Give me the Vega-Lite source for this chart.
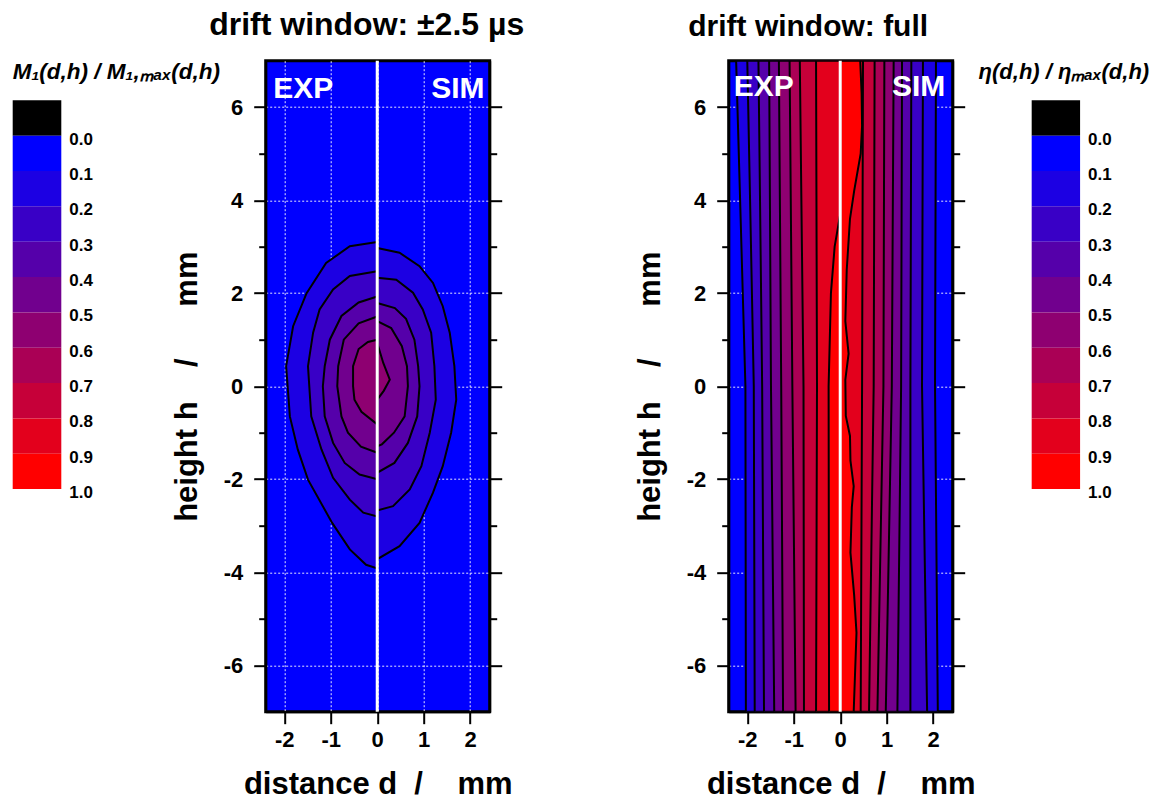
{
  "$schema": "https://vega.github.io/schema/vega-lite/v6.json",
  "usermeta": {"embedOptions": {"actions": false}},
  "padding": {"left": 10.7, "top": 6.7, "right": 5, "bottom": 0},
  "background": "white",
  "config": {
    "font": "Liberation Sans",
    "view": {"stroke": null},
    "axis": {
      "labelFont": "Liberation Sans", "labelFontSize": 22, "labelFontWeight": "bold", "labelColor": "black",
      "titleFont": "Liberation Sans", "titleFontSize": 31, "titleFontWeight": "bold", "titleColor": "black",
      "tickColor": "black", "tickWidth": 2, "domainColor": "black", "domainWidth": 2,
      "gridColor": "white", "gridDash": [2, 2], "gridWidth": 1, "zindex": 1,
      "labelFlush": false, "labelOverlap": false
    },
    "title": {"font": "Liberation Sans", "fontSize": 31, "fontWeight": "bold", "color": "black", "anchor": "middle", "frame": "group", "baseline": "alphabetic", "offset": 17.6}
  },
  "datasets": {
    "bands": [
      {"band": -1, "lo": -0.1, "hi": 0.0},
      {"band": 0, "lo": 0.0, "hi": 0.1},
      {"band": 1, "lo": 0.1, "hi": 0.2},
      {"band": 2, "lo": 0.2, "hi": 0.3},
      {"band": 3, "lo": 0.3, "hi": 0.4},
      {"band": 4, "lo": 0.4, "hi": 0.5},
      {"band": 5, "lo": 0.5, "hi": 0.6},
      {"band": 6, "lo": 0.6, "hi": 0.7},
      {"band": 7, "lo": 0.7, "hi": 0.8},
      {"band": 8, "lo": 0.8, "hi": 0.9},
      {"band": 9, "lo": 0.9, "hi": 1.0}
    ],
    "left": [
      {"level": 1, "side": "EXP", "h": 3.10, "d": 0},
      {"level": 1, "side": "EXP", "h": 3.01, "d": -0.59},
      {"level": 1, "side": "EXP", "h": 2.65, "d": -1.10},
      {"level": 1, "side": "EXP", "h": 2.0, "d": -1.52},
      {"level": 1, "side": "EXP", "h": 1.29, "d": -1.81},
      {"level": 1, "side": "EXP", "h": 0.43, "d": -1.96},
      {"level": 1, "side": "EXP", "h": -0.65, "d": -1.88},
      {"level": 1, "side": "EXP", "h": -1.36, "d": -1.71},
      {"level": 1, "side": "EXP", "h": -2.01, "d": -1.49},
      {"level": 1, "side": "EXP", "h": -2.94, "d": -0.97},
      {"level": 1, "side": "EXP", "h": -3.51, "d": -0.59},
      {"level": 1, "side": "EXP", "h": -3.84, "d": -0.24},
      {"level": 1, "side": "EXP", "h": -3.92, "d": 0},
      {"level": 1, "side": "SIM", "h": 2.97, "d": 0},
      {"level": 1, "side": "SIM", "h": 2.87, "d": 0.48},
      {"level": 1, "side": "SIM", "h": 2.58, "d": 0.91},
      {"level": 1, "side": "SIM", "h": 2.22, "d": 1.20},
      {"level": 1, "side": "SIM", "h": 1.72, "d": 1.41},
      {"level": 1, "side": "SIM", "h": 1.15, "d": 1.56},
      {"level": 1, "side": "SIM", "h": 0.43, "d": 1.66},
      {"level": 1, "side": "SIM", "h": -0.29, "d": 1.70},
      {"level": 1, "side": "SIM", "h": -1.0, "d": 1.59},
      {"level": 1, "side": "SIM", "h": -1.72, "d": 1.41},
      {"level": 1, "side": "SIM", "h": -2.29, "d": 1.20},
      {"level": 1, "side": "SIM", "h": -2.94, "d": 0.91},
      {"level": 1, "side": "SIM", "h": -3.44, "d": 0.48},
      {"level": 1, "side": "SIM", "h": -3.72, "d": 0},
      {"level": 2, "side": "EXP", "h": 2.47, "d": 0},
      {"level": 2, "side": "EXP", "h": 2.37, "d": -0.59},
      {"level": 2, "side": "EXP", "h": 2.08, "d": -0.95},
      {"level": 2, "side": "EXP", "h": 1.65, "d": -1.24},
      {"level": 2, "side": "EXP", "h": 1.15, "d": -1.38},
      {"level": 2, "side": "EXP", "h": 0.43, "d": -1.49},
      {"level": 2, "side": "EXP", "h": -0.65, "d": -1.42},
      {"level": 2, "side": "EXP", "h": -1.36, "d": -1.20},
      {"level": 2, "side": "EXP", "h": -1.97, "d": -0.95},
      {"level": 2, "side": "EXP", "h": -2.44, "d": -0.59},
      {"level": 2, "side": "EXP", "h": -2.72, "d": -0.30},
      {"level": 2, "side": "EXP", "h": -2.80, "d": 0},
      {"level": 2, "side": "SIM", "h": 2.33, "d": 0},
      {"level": 2, "side": "SIM", "h": 2.29, "d": 0.41},
      {"level": 2, "side": "SIM", "h": 2.01, "d": 0.77},
      {"level": 2, "side": "SIM", "h": 1.65, "d": 0.98},
      {"level": 2, "side": "SIM", "h": 1.15, "d": 1.16},
      {"level": 2, "side": "SIM", "h": 0.43, "d": 1.23},
      {"level": 2, "side": "SIM", "h": -0.29, "d": 1.26},
      {"level": 2, "side": "SIM", "h": -1.0, "d": 1.13},
      {"level": 2, "side": "SIM", "h": -1.72, "d": 0.95},
      {"level": 2, "side": "SIM", "h": -2.22, "d": 0.70},
      {"level": 2, "side": "SIM", "h": -2.58, "d": 0.34},
      {"level": 2, "side": "SIM", "h": -2.67, "d": 0},
      {"level": 3, "side": "EXP", "h": 1.93, "d": 0},
      {"level": 3, "side": "EXP", "h": 1.80, "d": -0.40},
      {"level": 3, "side": "EXP", "h": 1.51, "d": -0.77},
      {"level": 3, "side": "EXP", "h": 1.0, "d": -1.02},
      {"level": 3, "side": "EXP", "h": 0.43, "d": -1.13},
      {"level": 3, "side": "EXP", "h": 0.0, "d": -1.17},
      {"level": 3, "side": "EXP", "h": -0.65, "d": -1.13},
      {"level": 3, "side": "EXP", "h": -1.22, "d": -0.95},
      {"level": 3, "side": "EXP", "h": -1.65, "d": -0.70},
      {"level": 3, "side": "EXP", "h": -1.90, "d": -0.38},
      {"level": 3, "side": "EXP", "h": -2.0, "d": 0},
      {"level": 3, "side": "SIM", "h": 1.79, "d": 0},
      {"level": 3, "side": "SIM", "h": 1.68, "d": 0.38},
      {"level": 3, "side": "SIM", "h": 1.45, "d": 0.62},
      {"level": 3, "side": "SIM", "h": 1.0, "d": 0.80},
      {"level": 3, "side": "SIM", "h": 0.43, "d": 0.88},
      {"level": 3, "side": "SIM", "h": 0.0, "d": 0.91},
      {"level": 3, "side": "SIM", "h": -0.65, "d": 0.86},
      {"level": 3, "side": "SIM", "h": -1.22, "d": 0.66},
      {"level": 3, "side": "SIM", "h": -1.65, "d": 0.37},
      {"level": 3, "side": "SIM", "h": -1.86, "d": 0},
      {"level": 4, "side": "EXP", "h": 1.50, "d": 0},
      {"level": 4, "side": "EXP", "h": 1.35, "d": -0.40},
      {"level": 4, "side": "EXP", "h": 1.0, "d": -0.72},
      {"level": 4, "side": "EXP", "h": 0.43, "d": -0.84},
      {"level": 4, "side": "EXP", "h": 0.0, "d": -0.86},
      {"level": 4, "side": "EXP", "h": -0.65, "d": -0.77},
      {"level": 4, "side": "EXP", "h": -1.0, "d": -0.63},
      {"level": 4, "side": "EXP", "h": -1.30, "d": -0.35},
      {"level": 4, "side": "EXP", "h": -1.43, "d": 0},
      {"level": 4, "side": "SIM", "h": 1.40, "d": 0},
      {"level": 4, "side": "SIM", "h": 1.25, "d": 0.30},
      {"level": 4, "side": "SIM", "h": 0.86, "d": 0.53},
      {"level": 4, "side": "SIM", "h": 0.43, "d": 0.64},
      {"level": 4, "side": "SIM", "h": 0.0, "d": 0.66},
      {"level": 4, "side": "SIM", "h": -0.65, "d": 0.59},
      {"level": 4, "side": "SIM", "h": -1.0, "d": 0.36},
      {"level": 4, "side": "SIM", "h": -1.25, "d": 0.10},
      {"level": 4, "side": "SIM", "h": -1.29, "d": 0},
      {"level": 5, "side": "EXP", "h": 1.0, "d": 0},
      {"level": 5, "side": "EXP", "h": 0.95, "d": -0.20},
      {"level": 5, "side": "EXP", "h": 0.80, "d": -0.40},
      {"level": 5, "side": "EXP", "h": 0.43, "d": -0.52},
      {"level": 5, "side": "EXP", "h": 0.0, "d": -0.52},
      {"level": 5, "side": "EXP", "h": -0.29, "d": -0.49},
      {"level": 5, "side": "EXP", "h": -0.55, "d": -0.34},
      {"level": 5, "side": "EXP", "h": -0.82, "d": 0},
      {"level": 5, "side": "SIM", "h": 0.93, "d": 0},
      {"level": 5, "side": "SIM", "h": 0.5, "d": 0.13},
      {"level": 5, "side": "SIM", "h": 0.14, "d": 0.27},
      {"level": 5, "side": "SIM", "h": -0.1, "d": 0.14},
      {"level": 5, "side": "SIM", "h": -0.29, "d": 0}
    ],
    "right": [
      {"level": 1, "side": "EXP", "h": 7, "d": -2.24},
      {"level": 1, "side": "EXP", "h": 0, "d": -2.04},
      {"level": 1, "side": "EXP", "h": -7, "d": -2.03},
      {"level": 1, "side": "SIM", "h": 7, "d": 2.06},
      {"level": 1, "side": "SIM", "h": 0, "d": 2.04},
      {"level": 1, "side": "SIM", "h": -7, "d": 2.10},
      {"level": 2, "side": "EXP", "h": 7, "d": -2.0},
      {"level": 2, "side": "EXP", "h": 0, "d": -1.86},
      {"level": 2, "side": "EXP", "h": -7, "d": -1.84},
      {"level": 2, "side": "SIM", "h": 7, "d": 1.78},
      {"level": 2, "side": "SIM", "h": 0, "d": 1.76},
      {"level": 2, "side": "SIM", "h": -7, "d": 1.87},
      {"level": 3, "side": "EXP", "h": 7, "d": -1.76},
      {"level": 3, "side": "EXP", "h": 0, "d": -1.68},
      {"level": 3, "side": "EXP", "h": -7, "d": -1.64},
      {"level": 3, "side": "SIM", "h": 7, "d": 1.53},
      {"level": 3, "side": "SIM", "h": 0, "d": 1.51},
      {"level": 3, "side": "SIM", "h": -7, "d": 1.51},
      {"level": 4, "side": "EXP", "h": 7, "d": -1.53},
      {"level": 4, "side": "EXP", "h": 0, "d": -1.49},
      {"level": 4, "side": "EXP", "h": -7, "d": -1.42},
      {"level": 4, "side": "SIM", "h": 7, "d": 1.33},
      {"level": 4, "side": "SIM", "h": 0, "d": 1.31},
      {"level": 4, "side": "SIM", "h": -7, "d": 1.23},
      {"level": 5, "side": "EXP", "h": 7, "d": -1.32},
      {"level": 5, "side": "EXP", "h": 0, "d": -1.27},
      {"level": 5, "side": "EXP", "h": -7, "d": -1.23},
      {"level": 5, "side": "SIM", "h": 7, "d": 1.15},
      {"level": 5, "side": "SIM", "h": 0, "d": 1.11},
      {"level": 5, "side": "SIM", "h": -7, "d": 0.98},
      {"level": 6, "side": "EXP", "h": 7, "d": -1.09},
      {"level": 6, "side": "EXP", "h": 0, "d": -1.03},
      {"level": 6, "side": "EXP", "h": -7, "d": -0.96},
      {"level": 6, "side": "SIM", "h": 7, "d": 0.95},
      {"level": 6, "side": "SIM", "h": 0, "d": 0.93},
      {"level": 6, "side": "SIM", "h": -7, "d": 0.80},
      {"level": 7, "side": "EXP", "h": 7, "d": -0.87},
      {"level": 7, "side": "EXP", "h": 0, "d": -0.79},
      {"level": 7, "side": "EXP", "h": -7, "d": -0.78},
      {"level": 7, "side": "SIM", "h": 7, "d": 0.74},
      {"level": 7, "side": "SIM", "h": 0, "d": 0.72},
      {"level": 7, "side": "SIM", "h": -7, "d": 0.62},
      {"level": 8, "side": "EXP", "h": 7, "d": -0.52},
      {"level": 8, "side": "EXP", "h": 0, "d": -0.50},
      {"level": 8, "side": "EXP", "h": -7, "d": -0.52},
      {"level": 8, "side": "SIM", "h": 7, "d": 0.49},
      {"level": 8, "side": "SIM", "h": 0, "d": 0.47},
      {"level": 8, "side": "SIM", "h": -7, "d": 0.44},
      {"level": 9, "side": "EXP", "h": 3.7, "d": 0},
      {"level": 9, "side": "EXP", "h": 3.0, "d": -0.12},
      {"level": 9, "side": "EXP", "h": 2.0, "d": -0.20},
      {"level": 9, "side": "EXP", "h": 0, "d": -0.25},
      {"level": 9, "side": "EXP", "h": -7, "d": -0.24},
      {"level": 9, "side": "SIM", "h": 7, "d": 0.43},
      {"level": 9, "side": "SIM", "h": 6.3, "d": 0.46},
      {"level": 9, "side": "SIM", "h": 5.6, "d": 0.47},
      {"level": 9, "side": "SIM", "h": 5.0, "d": 0.44},
      {"level": 9, "side": "SIM", "h": 4.2, "d": 0.30},
      {"level": 9, "side": "SIM", "h": 3.6, "d": 0.21},
      {"level": 9, "side": "SIM", "h": 2.5, "d": 0.14},
      {"level": 9, "side": "SIM", "h": 1.4, "d": 0.11},
      {"level": 9, "side": "SIM", "h": 0.7, "d": 0.18},
      {"level": 9, "side": "SIM", "h": 0.14, "d": 0.11},
      {"level": 9, "side": "SIM", "h": -0.64, "d": 0.12},
      {"level": 9, "side": "SIM", "h": -1.07, "d": 0.21},
      {"level": 9, "side": "SIM", "h": -1.6, "d": 0.22},
      {"level": 9, "side": "SIM", "h": -2.15, "d": 0.29},
      {"level": 9, "side": "SIM", "h": -2.6, "d": 0.25},
      {"level": 9, "side": "SIM", "h": -3.58, "d": 0.22},
      {"level": 9, "side": "SIM", "h": -4.5, "d": 0.30},
      {"level": 9, "side": "SIM", "h": -5.3, "d": 0.35},
      {"level": 9, "side": "SIM", "h": -7, "d": 0.29}
    ]
  },
  "bounds": "flush",
  "spacing": 239,
  "hconcat": [
    {
      "width": 224,
      "height": 651,
      "title": {"text": "drift window: ±2.5 µs", "dx": -11, "fontSize": 32},
      "view": {"fill": "#0000ff", "stroke": "black", "strokeWidth": 3},
      "resolve": {"scale": {"x": "independent", "y": "independent", "color": "independent"}},
      "layer": [
        {
          "data": {"name": "left"},
          "resolve": {"axis": {"y": "independent"}},
          "layer": [
            {
              "mark": {"type": "area", "orient": "horizontal", "stroke": "black", "strokeWidth": 2, "clip": true},
              "encoding": {
                "y": {"field": "h", "type": "quantitative", "scale": {"domain": [-7, 7], "nice": false, "zero": false},
                  "axis": {"orient": "left", "values": [-6, -5, -4, -3, -2, -1, 0, 1, 2, 3, 4, 5, 6], "labelExpr": "datum.value % 2 == 0 ? '' + datum.value : ''", "tickSize": {"condition": {"test": "datum.value % 2 == 0", "value": 12}, "value": 7}, "grid": true, "gridOpacity": {"condition": {"test": "datum.value % 2 == 0", "value": 0.9}, "value": 0}, "title": "height h\u00a0\u00a0\u00a0\u00a0/\u00a0\u00a0\u00a0\u00a0\u00a0\u00a0mm", "titlePadding": 20, "labelPadding": 11}},
                "x": {"field": "d", "type": "quantitative", "scale": {"domain": [-2.4, 2.42], "nice": false, "zero": false},
                  "axis": {"orient": "bottom", "values": [-2, -1.5, -1, -0.5, 0, 0.5, 1, 1.5, 2], "labelExpr": "datum.value % 1 == 0 ? '' + datum.value : ''", "tickSize": {"condition": {"test": "datum.value % 1 == 0", "value": 12}, "value": 7}, "grid": true, "gridOpacity": {"condition": {"test": "datum.value % 1 == 0", "value": 0.9}, "value": 0}, "title": "distance d\u00a0\u00a0/\u00a0\u00a0\u00a0\u00a0mm", "titlePadding": 19, "labelPadding": 6}},
                "x2": {"datum": 0},
                "color": {"field": "level", "type": "ordinal", "scale": {"domain": [-1, 0, 1, 2, 3, 4, 5, 6, 7, 8, 9], "range": ["#000000", "#0000ff", "#1c00e3", "#3900c6", "#5500aa", "#71008e", "#8e0071", "#aa0055", "#c60039", "#e3001c", "#ff0000"]}, "legend": null},
                "detail": {"field": "side", "type": "nominal"}
              }
            },
            {
              "data": {"values": [{"t": "zero"}]},
              "mark": {"type": "rule", "color": "white", "strokeWidth": 3},
              "encoding": {"x": {"datum": 0, "type": "quantitative"}}
            },
            {
              "data": {"values": [{"t": "EXP"}]},
              "mark": {"type": "text", "align": "left", "baseline": "alphabetic", "color": "white", "fontSize": 30, "fontWeight": "bold"},
              "encoding": {
                "x": {"datum": -2.24, "type": "quantitative"},
                "y": {"datum": 6.2, "type": "quantitative", "axis": {"orient": "right", "values": [-6, -5, -4, -3, -2, -1, 0, 1, 2, 3, 4, 5, 6], "labels": false, "tickSize": {"condition": {"test": "datum.value % 2 == 0", "value": 12}, "value": 7}, "grid": false, "title": null}},
                "text": {"field": "t", "type": "nominal"}
              }
            },
            {
              "data": {"values": [{"t": "SIM"}]},
              "mark": {"type": "text", "align": "right", "baseline": "alphabetic", "color": "white", "fontSize": 30, "fontWeight": "bold"},
              "encoding": {
                "x": {"datum": 2.31, "type": "quantitative"},
                "y": {"datum": 6.2, "type": "quantitative", "axis": null},
                "text": {"field": "t", "type": "nominal"}
              }
            }
          ]
        },
        {
          "data": {"name": "bands"},
          "layer": [
            {
              "mark": {"type": "rect"},
              "encoding": {
                "x": {"datum": 0, "type": "quantitative", "scale": {"domain": [5.2058, 9.8148], "nice": false, "zero": false}, "axis": null},
                "x2": {"datum": 1},
                "y": {"field": "lo", "type": "quantitative", "scale": {"domain": [-0.2122, 1.6299], "reverse": true, "nice": false, "zero": false}, "axis": null},
                "y2": {"field": "hi"},
                "color": {"field": "band", "type": "ordinal", "scale": {"domain": [-1, 0, 1, 2, 3, 4, 5, 6, 7, 8, 9], "range": ["#000000", "#0000ff", "#1c00e3", "#3900c6", "#5500aa", "#71008e", "#8e0071", "#aa0055", "#c60039", "#e3001c", "#ff0000"]}, "legend": null}
              }
            },
            {
              "mark": {"type": "text", "align": "left", "baseline": "middle", "dx": 8, "dy": 4, "fontSize": 17, "fontWeight": "bold", "color": "black"},
              "encoding": {
                "x": {"datum": 1, "type": "quantitative"},
                "y": {"field": "hi", "type": "quantitative"},
                "text": {"field": "hi", "type": "quantitative", "format": ".1f"}
              }
            },
            {
              "data": {"values": [{"t": "M₁(d,h) / M₁,ₘₐₓ(d,h)"}]},
              "mark": {"type": "text", "align": "left", "baseline": "alphabetic", "fontSize": 22.5, "fontWeight": "bold", "fontStyle": "italic", "color": "black"},
              "encoding": {
                "x": {"datum": 0, "type": "quantitative"},
                "y": {"datum": -0.159, "type": "quantitative"},
                "text": {"field": "t", "type": "nominal"}
              }
            }
          ]
        }
      ]
    },
    {
      "width": 224,
      "height": 651,
      "title": {"text": "drift window: full", "dx": -32.5, "fontSize": 30},
      "view": {"fill": "#0000ff", "stroke": "black", "strokeWidth": 3},
      "resolve": {"scale": {"x": "independent", "y": "independent", "color": "independent"}},
      "layer": [
        {
          "data": {"name": "right"},
          "resolve": {"axis": {"y": "independent"}},
          "layer": [
            {
              "mark": {"type": "area", "orient": "horizontal", "stroke": "black", "strokeWidth": 2, "clip": true},
              "encoding": {
                "y": {"field": "h", "type": "quantitative", "scale": {"domain": [-7, 7], "nice": false, "zero": false},
                  "axis": {"orient": "left", "values": [-6, -5, -4, -3, -2, -1, 0, 1, 2, 3, 4, 5, 6], "labelExpr": "datum.value % 2 == 0 ? '' + datum.value : ''", "tickSize": {"condition": {"test": "datum.value % 2 == 0", "value": 12}, "value": 7}, "grid": true, "gridOpacity": {"condition": {"test": "datum.value % 2 == 0", "value": 0.9}, "value": 0}, "title": "height h\u00a0\u00a0\u00a0\u00a0/\u00a0\u00a0\u00a0\u00a0\u00a0\u00a0mm", "titlePadding": 20, "labelPadding": 11}},
                "x": {"field": "d", "type": "quantitative", "scale": {"domain": [-2.4, 2.42], "nice": false, "zero": false},
                  "axis": {"orient": "bottom", "values": [-2, -1.5, -1, -0.5, 0, 0.5, 1, 1.5, 2], "labelExpr": "datum.value % 1 == 0 ? '' + datum.value : ''", "tickSize": {"condition": {"test": "datum.value % 1 == 0", "value": 12}, "value": 7}, "grid": true, "gridOpacity": {"condition": {"test": "datum.value % 1 == 0", "value": 0.9}, "value": 0}, "title": "distance d\u00a0\u00a0/\u00a0\u00a0\u00a0\u00a0mm", "titlePadding": 19, "labelPadding": 6}},
                "x2": {"datum": 0},
                "color": {"field": "level", "type": "ordinal", "scale": {"domain": [-1, 0, 1, 2, 3, 4, 5, 6, 7, 8, 9], "range": ["#000000", "#0000ff", "#1c00e3", "#3900c6", "#5500aa", "#71008e", "#8e0071", "#aa0055", "#c60039", "#e3001c", "#ff0000"]}, "legend": null},
                "detail": {"field": "side", "type": "nominal"}
              }
            },
            {
              "data": {"values": [{"t": "zero"}]},
              "mark": {"type": "rule", "color": "white", "strokeWidth": 3},
              "encoding": {"x": {"datum": 0, "type": "quantitative"}}
            },
            {
              "data": {"values": [{"t": "EXP"}]},
              "mark": {"type": "text", "align": "left", "baseline": "alphabetic", "color": "white", "fontSize": 30, "fontWeight": "bold"},
              "encoding": {
                "x": {"datum": -2.29, "type": "quantitative"},
                "y": {"datum": 6.24, "type": "quantitative", "axis": {"orient": "right", "values": [-6, -5, -4, -3, -2, -1, 0, 1, 2, 3, 4, 5, 6], "labels": false, "tickSize": {"condition": {"test": "datum.value % 2 == 0", "value": 12}, "value": 7}, "grid": false, "title": null}},
                "text": {"field": "t", "type": "nominal"}
              }
            },
            {
              "data": {"values": [{"t": "SIM"}]},
              "mark": {"type": "text", "align": "right", "baseline": "alphabetic", "color": "white", "fontSize": 30, "fontWeight": "bold"},
              "encoding": {
                "x": {"datum": 2.26, "type": "quantitative"},
                "y": {"datum": 6.24, "type": "quantitative", "axis": null},
                "text": {"field": "t", "type": "nominal"}
              }
            }
          ]
        },
        {
          "data": {"name": "bands"},
          "layer": [
            {
              "mark": {"type": "rect"},
              "encoding": {
                "x": {"datum": 0, "type": "quantitative", "scale": {"domain": [-6.2603, -1.6322], "nice": false, "zero": false}, "axis": null},
                "x2": {"datum": 1},
                "y": {"field": "lo", "type": "quantitative", "scale": {"domain": [-0.2122, 1.6299], "reverse": true, "nice": false, "zero": false}, "axis": null},
                "y2": {"field": "hi"},
                "color": {"field": "band", "type": "ordinal", "scale": {"domain": [-1, 0, 1, 2, 3, 4, 5, 6, 7, 8, 9], "range": ["#000000", "#0000ff", "#1c00e3", "#3900c6", "#5500aa", "#71008e", "#8e0071", "#aa0055", "#c60039", "#e3001c", "#ff0000"]}, "legend": null}
              }
            },
            {
              "mark": {"type": "text", "align": "left", "baseline": "middle", "dx": 8, "dy": 4, "fontSize": 17, "fontWeight": "bold", "color": "black"},
              "encoding": {
                "x": {"datum": 1, "type": "quantitative"},
                "y": {"field": "hi", "type": "quantitative"},
                "text": {"field": "hi", "type": "quantitative", "format": ".1f"}
              }
            },
            {
              "data": {"values": [{"t": "η(d,h) / ηₘₐₓ(d,h)"}]},
              "mark": {"type": "text", "align": "center", "baseline": "alphabetic", "dx": 8, "fontSize": 22, "fontWeight": "bold", "fontStyle": "italic", "color": "black"},
              "encoding": {
                "x": {"datum": 0.5, "type": "quantitative"},
                "y": {"datum": -0.159, "type": "quantitative"},
                "text": {"field": "t", "type": "nominal"}
              }
            }
          ]
        }
      ]
    }
  ]
}
